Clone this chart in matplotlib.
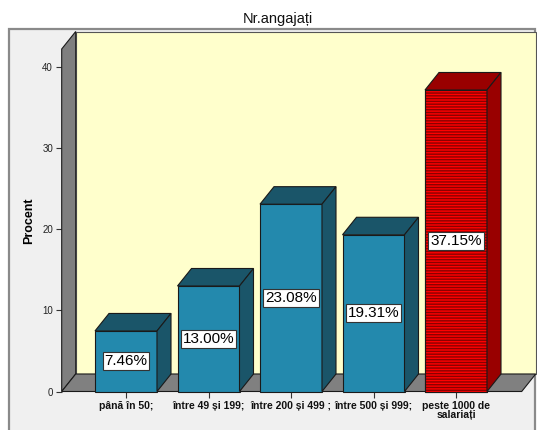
import matplotlib
matplotlib.use("Agg")
import matplotlib.pyplot as plt
from matplotlib.patches import Rectangle, Polygon

plt.rcParams['font.family'] = ['Liberation Sans', 'DejaVu Sans']
plt.rcParams['hatch.linewidth'] = 1.0

# Data
categories = ["până în 50;", "între 49 și 199;", "între 200 și 499 ;",
              "între 500 și 999;", "peste 1000 de\nsalariați"]
percent = [7.46, 13.00, 23.08, 19.31, 37.15]
y_ticks = [0, 10, 20, 30, 40]
title = "Nr.angajați"
y_label = "Procent"
highlight = 4

W, H = 537, 430
fig = plt.figure(figsize=(W / 100, H / 100), dpi=100)
fig.patch.set_facecolor("white")

# outer chart frame (behind everything)
fig.patches.append(Rectangle((9 / W, -0.02), (535 - 9) / W, 1.02 - 29 / H,
                             transform=fig.transFigure, facecolor="#F0F0F0",
                             edgecolor="#8a8a8a", linewidth=1.6, zorder=-10))

left_px, right_px, bottom_px, top_px = 61.7, 521.7, 391.5, 49
ax = fig.add_axes([left_px / W, 1 - bottom_px / H,
                   (right_px - left_px) / W, (bottom_px - top_px) / H])
ax.patch.set_visible(False)

step_px = 82.5
x0 = -(126 - left_px) / step_px
x1 = (right_px - 126) / step_px
ymax = 42.2
ax.set_xlim(x0, x1)
ax.set_ylim(0, ymax)

# 3D depth offset in data units
px_per_y = (bottom_px - top_px) / ymax
ddx = 14 / step_px
ddy = 17.5 / px_per_y

edge = "#1a1a1a"
elw = 0.8

def add(p):
    p.set_clip_on(False)
    ax.add_patch(p)

# back wall, side wall and floor
add(Rectangle((x0 + ddx, ddy), x1 - x0, ymax, facecolor="#FFFFCC",
              edgecolor="#555555", linewidth=elw, zorder=1))
add(Polygon([(x0, 0), (x0, ymax), (x0 + ddx, ymax + ddy), (x0 + ddx, ddy)],
            closed=True, facecolor="#7F7F7F", edgecolor=edge, linewidth=elw, zorder=2))
add(Polygon([(x0, 0), (x1, 0), (x1 + ddx, ddy), (x0 + ddx, ddy)],
            closed=True, facecolor="#808080", edgecolor=edge, linewidth=elw, zorder=2))

bw = 62 / step_px
for i, v in enumerate(percent):
    l, r = i - bw / 2, i + bw / 2
    if i == highlight:
        front = dict(facecolor="#FF0000", edgecolor="#8a0000", hatch="------")
        dark = "#990000"
    else:
        front = dict(facecolor="#2389AD", edgecolor=edge)
        dark = "#1A5569"
    add(Rectangle((l, 0), bw, v, linewidth=elw, zorder=3, **front))
    if i == highlight:
        add(Rectangle((l, 0), bw, v, facecolor="none", edgecolor=edge,
                      linewidth=elw, zorder=3))
    add(Polygon([(l, v), (r, v), (r + ddx, v + ddy), (l + ddx, v + ddy)],
                closed=True, facecolor=dark, edgecolor=edge, linewidth=elw, zorder=3))
    add(Polygon([(r, 0), (r, v), (r + ddx, v + ddy), (r + ddx, ddy)],
                closed=True, facecolor=dark, edgecolor=edge, linewidth=elw, zorder=3))
    ax.text(i, v / 2, f"{v:.2f}%", ha="center", va="center", fontsize=11,
            color="black", zorder=5,
            bbox=dict(boxstyle="square,pad=0.12", facecolor="white",
                      edgecolor="#333333", linewidth=0.8))

for s in ax.spines.values():
    s.set_visible(False)

ax.set_yticks(y_ticks)
ax.set_yticklabels([str(t) for t in y_ticks])
ax.tick_params(axis="y", direction="out", length=4.5, width=0.8, pad=1.8,
               labelsize=7, color="#333333", labelcolor="#222222")
ax.set_xticks(range(len(categories)))
ax.set_xticklabels(categories, fontweight="bold", linespacing=0.95)
ax.tick_params(axis="x", direction="out", length=4, width=0.8, pad=2.5,
               labelsize=7.5, color="#333333", labelcolor="#111111")

ax.set_ylabel(y_label, fontsize=9, fontweight="bold")
ax.yaxis.set_label_coords(-0.058, 0.5)

fig.text(278 / W, 1 - 18.5 / H, title, ha="center", va="center",
         fontsize=10.5, color="#111111")

fig.savefig("out.png", dpi=100)
